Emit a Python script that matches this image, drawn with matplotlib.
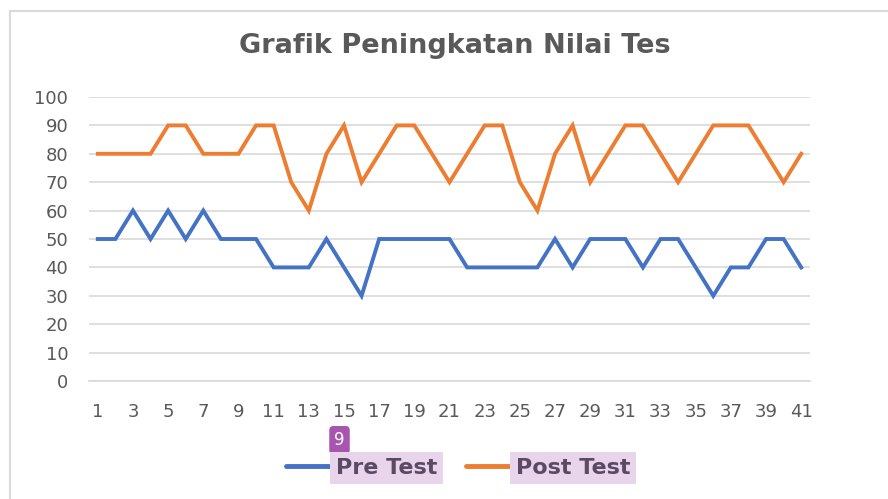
import matplotlib.pyplot as plt
from matplotlib.lines import Line2D

# nilai per siswa (1..41)
students = list(range(1, 42))
pre_test = [50, 50, 60, 50, 60, 50, 60, 50, 50, 50,
            40, 40, 40, 50, 40, 30, 50, 50, 50, 50,
            50, 40, 40, 40, 40, 40, 50, 40, 50, 50,
            50, 40, 50, 50, 40, 30, 40, 40, 50, 50, 40]
post_test = [80, 80, 80, 80, 90, 90, 80, 80, 80, 90,
             90, 70, 60, 80, 90, 70, 80, 90, 90, 80,
             70, 80, 90, 90, 70, 60, 80, 90, 70, 80,
             90, 90, 80, 70, 80, 90, 90, 90, 80, 70, 80]
y_ticks = list(range(0, 101, 10))
x_ticks = list(range(1, 42, 2))

TEXT = "#595959"
GRID = "#d9d9d9"

fig = plt.figure(figsize=(8.88, 4.99), dpi=100)
ax = fig.add_axes([89 / 888, 1 - 381 / 499, 721 / 888, 284 / 499])

ax.plot(students, pre_test, color="#4472c4", lw=2.8, label="Pre Test",
        solid_joinstyle="miter")
ax.plot(students, post_test, color="#ed7d31", lw=2.8, label="Post Test",
        solid_joinstyle="miter")

ax.set_xlim(0.5, 41.5)
ax.set_ylim(0, 100)
ax.set_yticks(y_ticks)
ax.set_xticks(x_ticks)
ax.grid(axis="y", color=GRID, lw=1.2)
ax.set_axisbelow(True)
for side in ["top", "right", "left"]:
    ax.spines[side].set_visible(False)
ax.spines["bottom"].set_color(GRID)
ax.spines["bottom"].set_linewidth(1.2)
ax.tick_params(axis="y", length=0, pad=15, labelsize=13, labelcolor=TEXT)
ax.tick_params(axis="x", length=0, pad=16, labelsize=13, labelcolor=TEXT)

fig.text(455 / 888, 1 - 46 / 499, "Grafik Peningkatan Nilai Tes",
         ha="center", va="center", fontsize=19.5, fontweight="bold", color=TEXT)

leg = fig.legend(loc="center", bbox_to_anchor=(458 / 888, 1 - 468 / 499),
                 ncol=2, frameon=False, fontsize=16, handlelength=2.0,
                 handletextpad=0.25, columnspacing=1.3)
for t in leg.get_texts():
    t.set_fontweight("bold")
    t.set_color("#5b4a63")
    t.set_bbox(dict(facecolor="#e8d5ec", edgecolor="none", pad=4))
for h in leg.get_lines():
    h.set_linewidth(3.5)
    h.set_solid_capstyle("round")

# badge kecil di atas legenda
fig.text(339.5 / 888, 1 - 440 / 499, "9", ha="center", va="center", fontsize=12,
         color="white",
         bbox=dict(boxstyle="round,pad=0.3,rounding_size=0.25",
                   facecolor="#a855b0", edgecolor="none"))

# bingkai chart
fig.add_artist(Line2D([9.5 / 888, 9.5 / 888], [0, 1 - 10.5 / 499],
                      color=GRID, lw=1.5))
fig.add_artist(Line2D([9.5 / 888, 1], [1 - 10.5 / 499, 1 - 10.5 / 499],
                      color=GRID, lw=1.5))

fig.savefig("out.png", dpi=100)
